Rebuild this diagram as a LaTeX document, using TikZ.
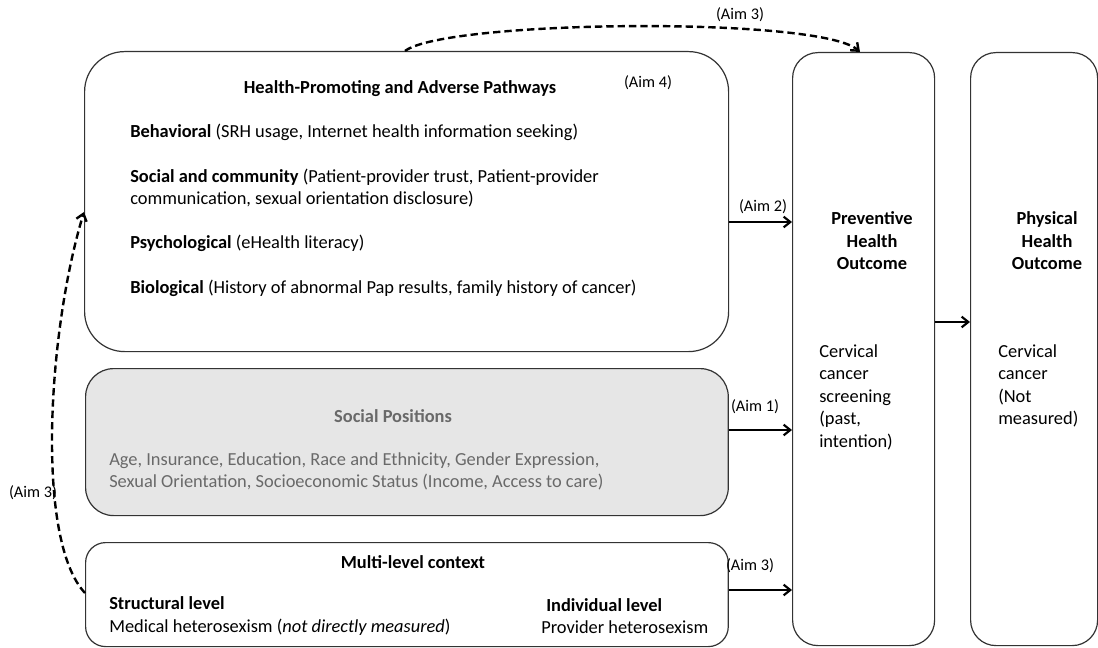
\documentclass[tikz,border=0pt]{standalone}
\usepackage{fontspec}
\setmainfont{Carlito}
\usetikzlibrary{positioning,arrows.meta}

\tikzset{
  box/.style={draw={rgb, 255:red, 51; green, 51; blue, 51 }, line width=0.9pt, anchor=north west, inner sep=0pt},
  txt/.style={font=\fontsize{13.8}{16.6}\selectfont, inner sep=0pt, align=left},
  hdr/.style={txt, font=\fontsize{13.8}{16.9}\selectfont\bfseries, align=center},
  aim/.style={inner sep=0pt, font=\fontsize{12.2}{14}\selectfont},
  link/.style={line width=1.6pt, -{Straight Barb[length=5pt,width=8pt]}},
  dlink/.style={link, line width=1.8pt, dash pattern=on 5.5pt off 3pt}
}

\begin{document}
\begin{tikzpicture}[x=0.75pt,y=0.75pt,yscale=-1,xscale=1]
\useasboundingbox (0,0) rectangle (1098,648);

%Shape: Rounded Rectangle [id:pathways]
\node (path) [box, rounded corners=30pt, minimum width=483pt, minimum height=225pt] at (84,51) {};
%Shape: Rounded Rectangle [id:positions]
\node (pos) [box, rounded corners=21pt, minimum width=482pt, minimum height=110.25pt, fill={rgb, 255:red, 230; green, 230; blue, 230 }] at (85,368) {};
%Shape: Rounded Rectangle [id:context]
\node (ctx) [box, rounded corners=15pt, minimum width=482pt, minimum height=78pt] at (85,542) {};
%Shape: Rounded Rectangle [id:preventive]
\node (prev) [box, rounded corners=19pt, minimum width=106.5pt, minimum height=444.75pt] at (792,52) {};
%Shape: Rounded Rectangle [id:physical]
\node (phys) [box, rounded corners=19pt, minimum width=95.25pt, minimum height=444.75pt] at (970,52) {};

% Text Node
\node (pathtitle) [hdr] at (400,89) {Health-Promoting and Adverse Pathways};
% Text Node
\node (aimfour) [aim] at (648,83) {(Aim 4)};
% Text Node
\node (behav) [txt, anchor=west] at (130,132) {\textbf{Behavioral} (SRH usage, Internet health information seeking)};
% Text Node
\node (social) [txt, anchor=west] at (130,188) {\textbf{Social and community} (Patient-provider trust, Patient-provider\\communication, sexual orientation disclosure)};
% Text Node
\node (psych) [txt, anchor=west] at (130,243) {\textbf{Psychological} (eHealth literacy)};
% Text Node
\node (bio) [txt, anchor=west] at (130,288) {\textbf{Biological} (History of abnormal Pap results, family history of cancer)};

% Text Node
\node (postitle) [hdr, text={rgb, 255:red, 105; green, 105; blue, 105 }] at (393,416) {Social Positions};
% Text Node
\node (poslist) [txt, anchor=west, text={rgb, 255:red, 105; green, 105; blue, 105 }] at (109,471) {Age, Insurance, Education, Race and Ethnicity, Gender Expression,\\Sexual Orientation, Socioeconomic Status (Income, Access to care)};

% Text Node
\node (ctxtitle) [hdr] at (413,562) {Multi-level context};
% Text Node
\node (struct) [txt, anchor=west] at (109,616) {\textbf{Structural level}\\Medical heterosexism (\textit{not directly measured})};
% Text Node
\node (indiv) [txt, anchor=west] at (546,605) {\textbf{Individual level}};
% Text Node
\node (provider) [txt, anchor=west] at (541,627) {Provider heterosexism};

% Text Node
\node (prevtitle) [hdr] at (872,241) {Preventive\\Health\\Outcome};
% Text Node
\node (prevtext) [txt, anchor=west, font=\fontsize{13.8}{16.9}\selectfont] at (819,397) {Cervical\\cancer\\screening\\(past,\\intention)};
% Text Node
\node (phystitle) [hdr] at (1047,241) {Physical\\Health\\Outcome};
% Text Node
\node (phystext) [txt, anchor=west, font=\fontsize{13.8}{16.9}\selectfont] at (998,386) {Cervical\\cancer\\(Not\\measured)};

% Arrows into outcomes
\coordinate (ytwo) at (0,222);
\coordinate (yone) at (0,430);
\coordinate (ythree) at (0,590);
\coordinate (yout) at (0,322);
\draw [link] (path.east |- ytwo) -- (prev.west |- ytwo);
\node (aimtwo) [aim] at (763,207) {(Aim 2)};
\draw [link] (pos.east |- yone) -- (prev.west |- yone);
\node (aimone) [aim] at (755,407) {(Aim 1)};
\draw [link] (ctx.east |- ythree) -- (prev.west |- ythree);
\node (aimthree) [aim] at (750,566) {(Aim 3)};
\draw [link] (prev.east |- yout) -- (phys.west |- yout);

% Dashed arrows
\coordinate (topstart) at (405,51);
\coordinate (topend) at (860,52);
\draw [dlink] (topstart) .. controls (445,20) and (820,16) .. (topend);
\node (aimtop) [aim] at (740,15) {(Aim 3)};
\coordinate (leftstart) at (85,593);
\coordinate (leftend) at (84,212);
\draw [dlink] (leftstart) .. controls (35,540) and (48,330) .. (leftend);
\node (aimleft) [aim] at (33,493) {(Aim 3)};
\end{tikzpicture}
\end{document}
